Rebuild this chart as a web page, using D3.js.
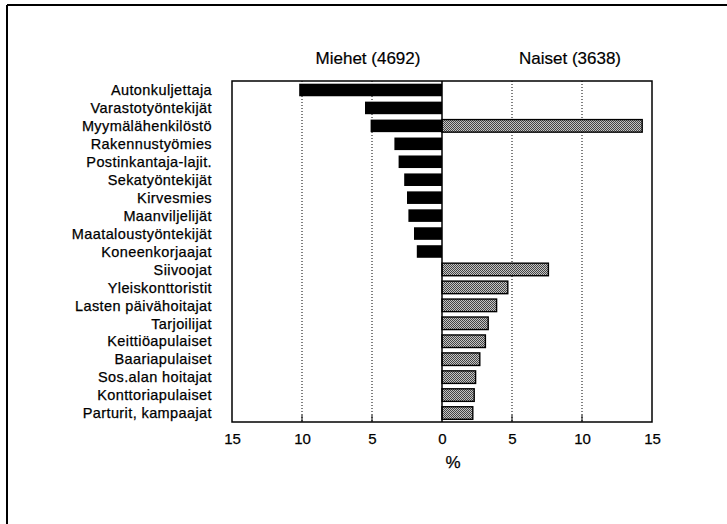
<!DOCTYPE html>
<html><head><meta charset="utf-8">
<script src="https://cdn.jsdelivr.net/npm/d3@7"></script>
<style>body{margin:0;background:#fff}svg{display:block}text{font-family:"Liberation Sans",Arial,Helvetica,sans-serif;fill:#000}</style>
</head><body><svg id="c" width="727" height="524"></svg>
<script>
const categories = ["Autonkuljettaja","Varastotyöntekijät","Myymälähenkilöstö","Rakennustyömies","Postinkantaja-lajit.","Sekatyöntekijät","Kirvesmies","Maanviljelijät","Maataloustyöntekijät","Koneenkorjaajat","Siivoojat","Yleiskonttoristit","Lasten päivähoitajat","Tarjoilijat","Keittiöapulaiset","Baariapulaiset","Sos.alan hoitajat","Konttoriapulaiset","Parturit, kampaajat"];
const menValues   = [10.2, 5.5, 5.1, 3.4, 3.1, 2.7, 2.5, 2.4, 2.0, 1.8, 0, 0, 0, 0, 0, 0, 0, 0, 0];
const womenValues = [0, 0, 14.3, 0, 0, 0, 0, 0, 0, 0, 7.6, 4.7, 3.9, 3.3, 3.1, 2.7, 2.4, 2.3, 2.2];
const tickValues = [-15, -10, -5, 0, 5, 10, 15];
const gridValues = [-10, -5, 5, 10];
const seriesTitles = ["Miehet (4692)", "Naiset (3638)"];
const axisTitle = "%";

const svg = d3.select("#c");
const defs = svg.append("defs");
const pat = defs.append("pattern").attr("id","dots").attr("width",2).attr("height",2).attr("patternUnits","userSpaceOnUse");
pat.append("rect").attr("width",2).attr("height",2).attr("fill","#c4c4c4");
pat.append("rect").attr("x",0).attr("y",0).attr("width",1).attr("height",1).attr("fill","#444");
pat.append("rect").attr("x",1).attr("y",1).attr("width",1).attr("height",1).attr("fill","#444");

// outer frame (top + left edges)
svg.append("line").attr("x1",7).attr("x2",727).attr("y1",5).attr("y2",5).attr("stroke","#000").attr("stroke-width",2);
svg.append("line").attr("x1",7).attr("x2",7).attr("y1",5).attr("y2",524).attr("stroke","#000").attr("stroke-width",2);

const L = 232, R = 652, T = 81, B = 422;
const x = d3.scaleLinear().domain([-15, 15]).range([L, R]);
const y = d3.scaleBand().domain(categories).range([T, B]).paddingInner(0.3).paddingOuter(0.15);

// gridlines
svg.append("g").selectAll("line").data(gridValues).join("line")
  .attr("x1", d => x(d)).attr("x2", d => x(d)).attr("y1", T).attr("y2", B)
  .attr("stroke","#000").attr("stroke-width",1).attr("stroke-dasharray","1,2");
// bottom ticks
svg.append("g").selectAll("line").data(gridValues).join("line")
  .attr("x1", d => x(d)).attr("x2", d => x(d)).attr("y1", B - 7).attr("y2", B)
  .attr("stroke","#000").attr("stroke-width",1);

// men bars
svg.append("g").selectAll("rect").data(categories.map((c,i)=>({c,v:menValues[i]})).filter(d=>d.v>0)).join("rect")
  .attr("x", d => x(-d.v)).attr("width", d => x(0) - x(-d.v))
  .attr("y", d => y(d.c)).attr("height", y.bandwidth()).attr("fill","#000");
// women bars
svg.append("g").selectAll("rect").data(categories.map((c,i)=>({c,v:womenValues[i]})).filter(d=>d.v>0)).join("rect")
  .attr("x", x(0)).attr("width", d => x(d.v) - x(0))
  .attr("y", d => y(d.c)).attr("height", y.bandwidth())
  .attr("fill","url(#dots)").attr("stroke","#000").attr("stroke-width",1.4);

// zero line
svg.append("line").attr("x1",x(0)).attr("x2",x(0)).attr("y1",T).attr("y2",B).attr("stroke","#000").attr("stroke-width",1.5);
// plot frame
svg.append("rect").attr("x",L).attr("y",T).attr("width",R-L).attr("height",B-T).attr("fill","none").attr("stroke","#000").attr("stroke-width",1.5);

// category labels
svg.append("g").selectAll("text").data(categories).join("text")
  .attr("x", 212).attr("y", d => y(d) + y.bandwidth()/2).attr("dy","0.36em")
  .attr("text-anchor","end").attr("font-size","14.5px").attr("letter-spacing","0.4px")
  .attr("stroke","#000").attr("stroke-width",0.25)
  .text(d => d);

// x axis labels
const xa = svg.append("g").attr("transform",`translate(0,${B})`)
  .call(d3.axisBottom(x).tickValues(tickValues).tickSize(0).tickPadding(11).tickFormat(d => Math.abs(d)));
xa.select(".domain").remove();
xa.selectAll("text").attr("font-size","15px").attr("font-family","Liberation Sans, Arial, sans-serif").attr("fill","#000").attr("stroke","#000").attr("stroke-width",0.25);

svg.append("text").attr("x",453).attr("y",462).attr("dy","0.36em").attr("text-anchor","middle")
  .attr("font-size","17px").attr("stroke","#000").attr("stroke-width",0.25).text(axisTitle);

// series titles
svg.append("text").attr("x",368).attr("y",58).attr("dy","0.36em").attr("text-anchor","middle")
  .attr("font-size","17px").attr("stroke","#000").attr("stroke-width",0.2).text(seriesTitles[0]);
svg.append("text").attr("x",570).attr("y",58).attr("dy","0.36em").attr("text-anchor","middle")
  .attr("font-size","17px").attr("stroke","#000").attr("stroke-width",0.2).text(seriesTitles[1]);
</script></body></html>
